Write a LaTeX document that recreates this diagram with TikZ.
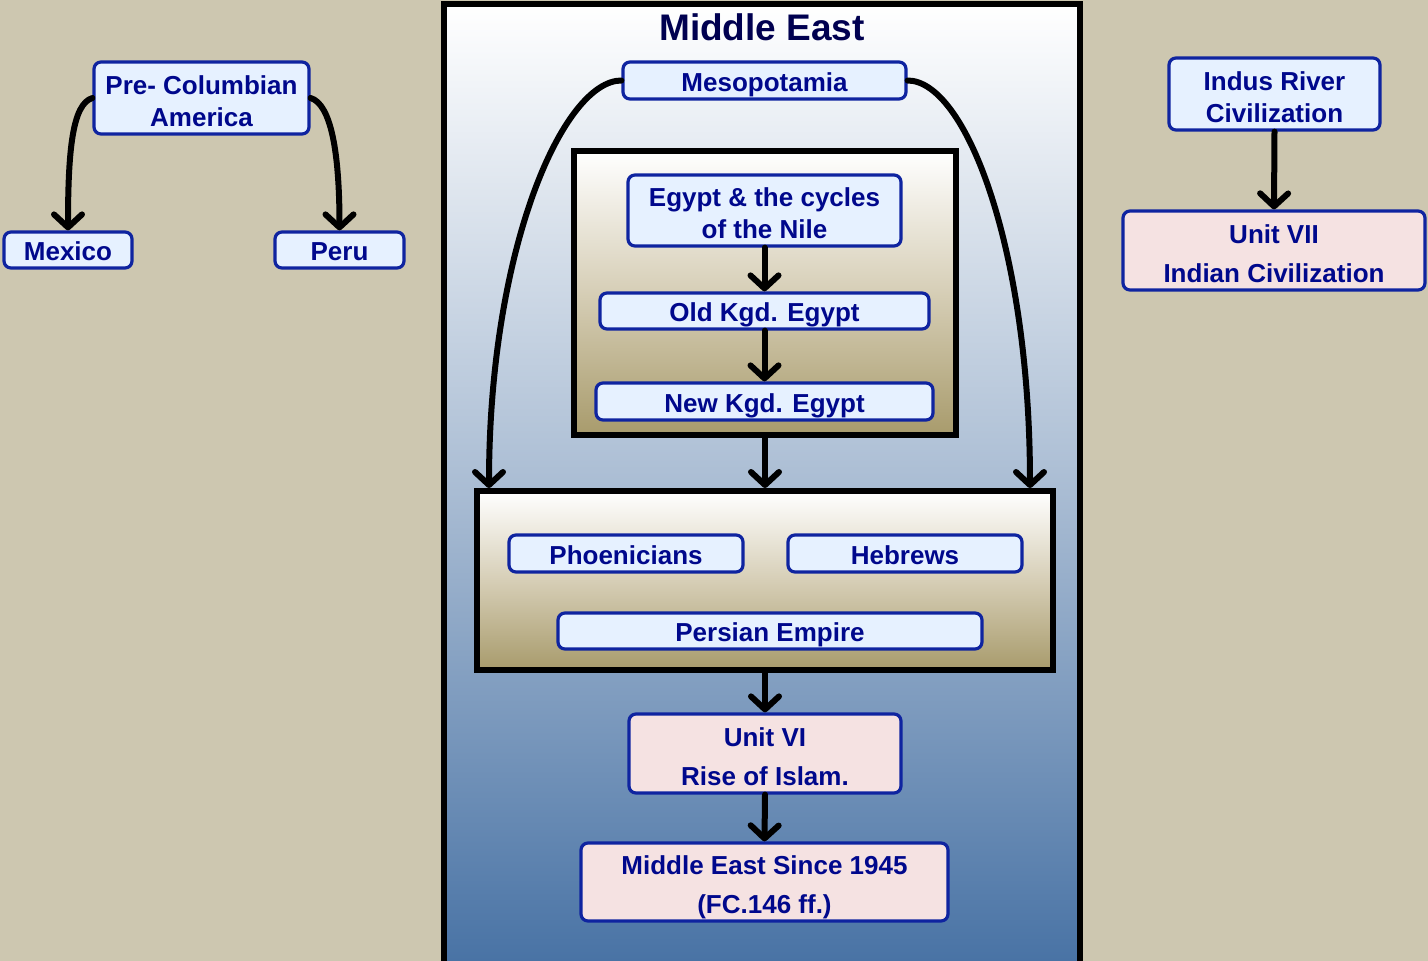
\documentclass[tikz,border=0pt]{standalone}
\usepackage{fontspec}
\setmainfont{Liberation Sans}
\usetikzlibrary{arrows.meta}
\definecolor{bgcol}{HTML}{CDC7B0}
\definecolor{meblue}{HTML}{4570A3}
\definecolor{memid}{HTML}{A9BCD3}
\definecolor{khaki}{HTML}{A89B6C}
\definecolor{khakimid}{HTML}{D6CEB6}
\definecolor{boxedge}{HTML}{0F24A0}
\definecolor{boxfill}{HTML}{E6F1FF}
\definecolor{pinkfill}{HTML}{F5E2E2}
\definecolor{navy}{HTML}{00088C}
\definecolor{titlecol}{HTML}{000050}
% invisible strut that sets the first line of a two-line box a little lower
\newcommand\firststrut{\rule{0pt}{30.5pt}}
\begin{document}
\begin{tikzpicture}[x=1pt,y=-1pt,
  item/.style={draw=boxedge, fill=boxfill, line width=3.2, rounded corners=7,
    inner sep=0, text=navy, align=center,
    execute at begin node={\rule{0pt}{27pt}},
    execute at end node={\rule[-6pt]{0pt}{6pt}},
    font=\fontsize{26}{32}\selectfont\bfseries},
  unitbox/.style={item, fill=pinkfill, font=\fontsize{26}{39}\selectfont\bfseries},
  groupbox/.style={draw=black, line width=6, inner sep=0,
    top color=white, bottom color=khaki, middle color=khakimid},
  conn/.style={draw=black, line width=6, line cap=round,
    -{Straight Barb[length=13, width=28, line cap=round, line join=round]}}
]
\useasboundingbox (0,0) rectangle (1428,961);
\fill[bgcol] (0,0) rectangle (1428,961);

% Middle East panel, running off the lower edge
\begin{scope}
\clip (0,0) rectangle (1428,961);
\node[draw=black, line width=6, inner sep=0, minimum width=636, minimum height=976,
  top color=white, bottom color=meblue, middle color=memid] (mebox) at (762,492) {};
\end{scope}
\node[font=\fontsize{37}{40}\selectfont\bfseries, text=titlecol] (title) at (762,27) {Middle East};

% Egypt group and the later group
\node[groupbox, minimum width=382, minimum height=284] (egbox) at (765,293) {};
\node[groupbox, minimum width=576, minimum height=179] (grp) at (765,580.5) {};

\node[item, minimum width=283, minimum height=37] (meso) at (764.5,80.5) {Mesopotamia};
\node[item, minimum width=273, minimum height=71] (egypt) at (764.5,210.5) {\firststrut Egypt \& the cycles\\of the Nile};
\node[item, minimum width=329, minimum height=36] (old) at (764.5,311) {Old Kgd. Egypt};
\node[item, minimum width=337, minimum height=37] (new) at (764.5,401.5) {New Kgd. Egypt};
\node[item, minimum width=234, minimum height=37] (phoen) at (626,553.5) {Phoenicians};
\node[item, minimum width=234, minimum height=37] (hebr) at (905,553.5) {Hebrews};
\node[item, minimum width=424, minimum height=36] (pers) at (770,631) {Persian Empire};
\node[unitbox, minimum width=272, minimum height=79] (unit6) at (765,753.5) {\firststrut Unit VI\\Rise of Islam.};
\node[unitbox, minimum width=367, minimum height=78] (since) at (764.5,882) {\firststrut Middle East Since 1945\\(FC.146 ff.)};

% Americas
\node[item, minimum width=215, minimum height=72] (precol) at (201.5,98) {\firststrut Pre- Columbian\\America};
\node[item, minimum width=128, minimum height=36] (mexico) at (68,250) {Mexico};
\node[item, minimum width=129, minimum height=36] (peru) at (339.5,250) {Peru};

% India
\node[item, minimum width=211, minimum height=72] (indus) at (1274.5,94) {\firststrut Indus River\\Civilization};
\node[unitbox, minimum width=302, minimum height=79] (unit7) at (1274,250.5) {\firststrut Unit VII\\Indian Civilization};

% connectors
\coordinate (gl) at ([xshift=15]grp.north west);
\coordinate (gr) at ([xshift=-26]grp.north east);
\draw[conn] (meso.west) .. controls +(-58,0) and +(0,-240) .. (gl);
\draw[conn] (meso.east) .. controls +(58,0) and +(0,-240) .. (gr);
\draw[conn] (egypt.south) -- (old.north);
\draw[conn] (old.south) -- (new.north);
\draw[conn] (egbox.south) -- (grp.north);
\draw[conn] (grp.south) -- (unit6.north);
\draw[conn] (unit6.south) -- (since.north);
\draw[conn] (precol.west) .. controls +(-20,6) and +(0,-80) .. (mexico.north);
\draw[conn] (precol.east) .. controls +(20,6) and +(0,-80) .. (peru.north);
\draw[conn] (indus.south) -- (unit7.north);
\end{tikzpicture}
\end{document}
